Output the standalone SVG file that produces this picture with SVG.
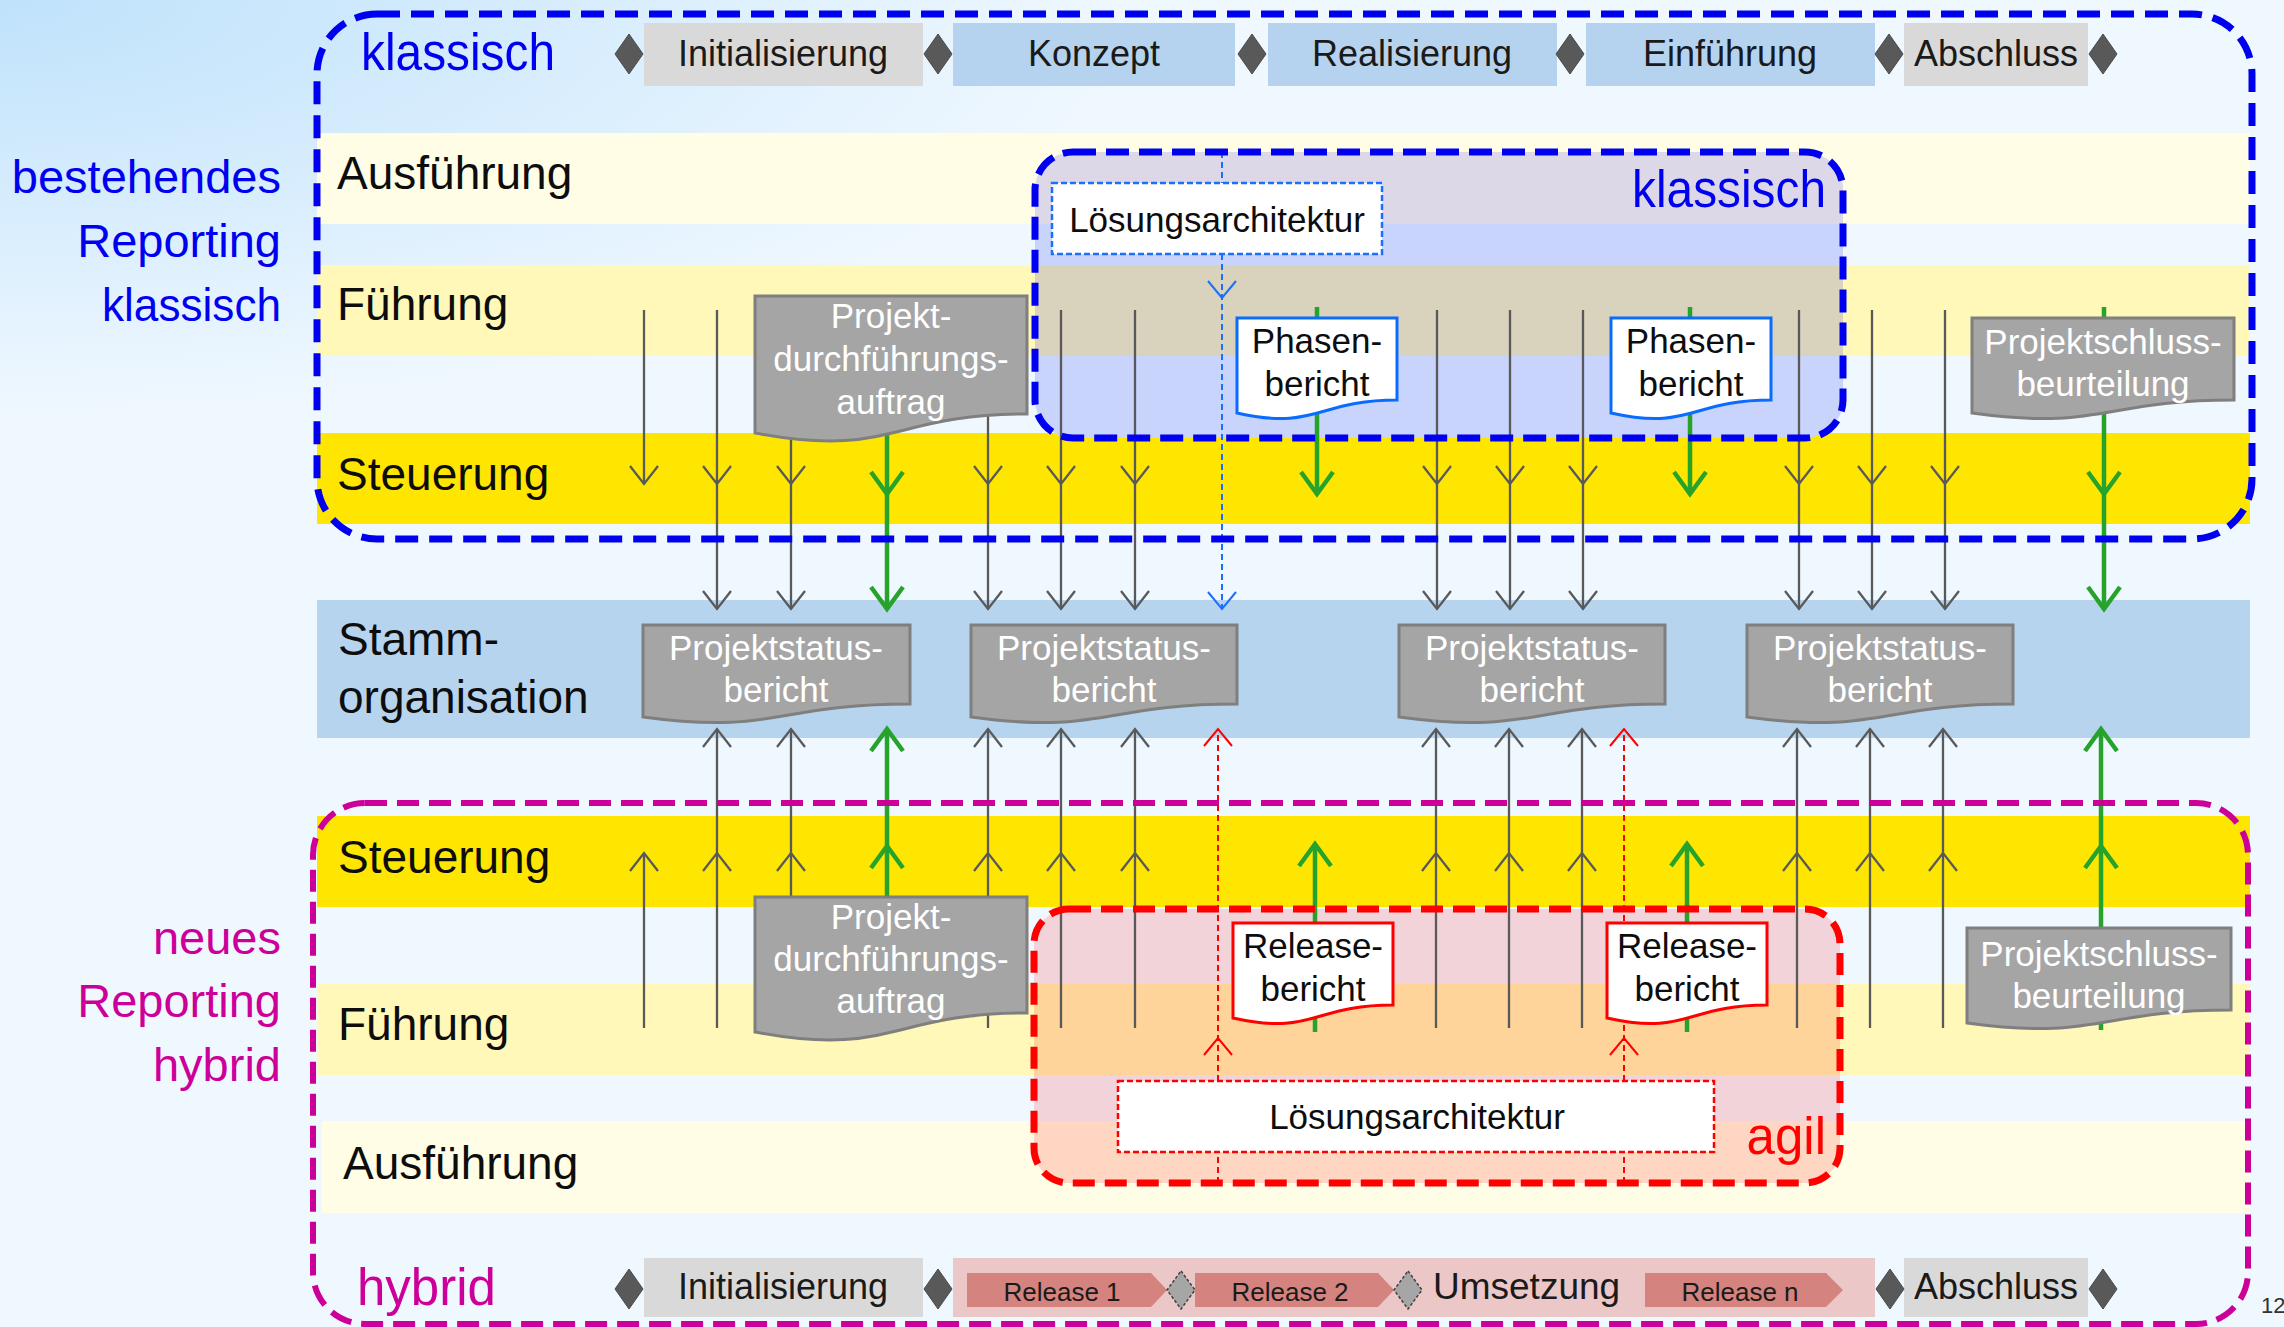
<svg xmlns="http://www.w3.org/2000/svg" xmlns:xlink="http://www.w3.org/1999/xlink" width="2284" height="1327" viewBox="0 0 2284 1327">
<style>
text{font-family:"Liberation Sans",Arial,sans-serif;}
.lane{font-size:46px;fill:#0d0d0d;}
.side{font-size:47px;text-anchor:end;}
.blue{fill:#0000f0;}
.mag{fill:#cc0099;}
.title{font-size:51px;}
.ph{font-size:36px;fill:#1a1a1a;text-anchor:middle;}
.dt{font-size:35px;text-anchor:middle;}
.wt{fill:#ffffff;}
.bt{fill:#0d0d0d;}
.rel{font-size:26px;fill:#1a1a1a;text-anchor:middle;}
.gl{stroke:#595959;stroke-width:2.3;fill:none;}
.gr{stroke:#25a32b;stroke-width:4.5;fill:none;}
.bd{stroke:#1a6fff;stroke-width:2;fill:none;}
.rd{stroke:#ff0000;stroke-width:2;fill:none;}
.dash{stroke-dasharray:6 4;}
.dg{fill:#a5a5a5;stroke:#7f7f7f;stroke-width:3;}
.dwb{fill:#ffffff;stroke:#0a6cff;stroke-width:3;}
.dwr{fill:#ffffff;stroke:#ff0000;stroke-width:3;}
.dia{fill:#595959;stroke:#4a4a4a;stroke-width:1;}
.dia2{fill:#a6a6a6;stroke:#404040;stroke-width:1.5;stroke-dasharray:3 2;}
.gray{fill:#d9d9d9;}
.lblue{fill:#b5d3ef;}
</style>
<defs>
<radialGradient id="bgGrad" gradientUnits="userSpaceOnUse" cx="0" cy="0" r="1" gradientTransform="matrix(1150 0 0 420 0 0)">
<stop offset="0" stop-color="#bfe2fb"/>
<stop offset="1" stop-color="#f0f8ff"/>
</radialGradient>
<clipPath id="cpK"><rect x="1035" y="152" width="808" height="286" rx="38"/></clipPath>
<clipPath id="cpA"><rect x="1034" y="909" width="806" height="274" rx="35"/></clipPath>
<path id="ahd" d="M-14,-18 L0,0 L14,-18"/>
<path id="ahu" d="M-14,18 L0,0 L14,18"/>
<path id="ahdG" d="M-16,-22 L0,0 L16,-22"/>
<path id="ahuG" d="M-16,22 L0,0 L16,22"/>
<path id="ahdS" d="M-14,-17 L0,0 L14,-17"/>
<path id="ahuS" d="M-14,17 L0,0 L14,17"/>
<path id="dmd" d="M0,-20 L14,0 L0,20 L-14,0 Z"/>
<path id="dmd2" d="M0,-19 L14,0 L0,19 L-14,0 Z"/>
</defs>

<rect x="0" y="0" width="2284" height="1327" fill="#f0f8ff"/>
<rect x="0" y="0" width="2284" height="1327" fill="url(#bgGrad)"/>

<g id="bands">
<rect x="317" y="133" width="1933" height="91" fill="#fffde6"/>
<rect x="317" y="265" width="1933" height="91" fill="#fff8b8"/>
<rect x="317" y="433" width="1933" height="91" fill="#ffe600"/>
<rect x="317" y="600" width="1933" height="138" fill="#b7d4ef"/>
<rect x="317" y="816" width="1933" height="91" fill="#ffe600"/>
<rect x="317" y="984" width="1933" height="91" fill="#fff8b8"/>
<rect x="322" y="1121" width="1928" height="92" fill="#fffde6"/>
</g>

<g id="lane-labels">
<text class="lane" x="337" y="189">Ausführung</text>
<text class="lane" x="337" y="320">Führung</text>
<text class="lane" x="337" y="490">Steuerung</text>
<text class="lane" x="338" y="655">Stamm-</text>
<text class="lane" x="338" y="713">organisation</text>
<text class="lane" x="338" y="873">Steuerung</text>
<text class="lane" x="338" y="1040">Führung</text>
<text class="lane" x="343" y="1179">Ausführung</text>
</g>

<g id="side-labels">
<text class="side blue" x="281" y="193">bestehendes</text>
<text class="side blue" x="281" y="257">Reporting</text>
<text class="side blue" x="281" y="321" textLength="179" lengthAdjust="spacingAndGlyphs">klassisch</text>
<text class="side mag" x="281" y="954">neues</text>
<text class="side mag" x="281" y="1017">Reporting</text>
<text class="side mag" x="281" y="1081">hybrid</text>
</g>

<g id="klassisch-inner-fill" clip-path="url(#cpK)">
<rect x="1035" y="152" width="808" height="286" fill="#c9d4fc"/>
<rect x="1035" y="152" width="808" height="72" fill="#dcd8e8"/>
<rect x="1035" y="265" width="808" height="91" fill="#d9d2bd"/>
</g>
<g id="agil-fill" clip-path="url(#cpA)">
<rect x="1034" y="909" width="806" height="274" fill="#f2d3d9"/>
<rect x="1034" y="984" width="806" height="91" fill="#fed49a"/>
<rect x="1034" y="1121" width="806" height="62" fill="#ffd6c2"/>
</g>

<g id="phases-klassisch">
<rect class="gray" x="644" y="23" width="279" height="63"/>
<rect class="lblue" x="953" y="23" width="282" height="63"/>
<rect class="lblue" x="1268" y="23" width="289" height="63"/>
<rect class="lblue" x="1586" y="23" width="289" height="63"/>
<rect class="gray" x="1904" y="23" width="184" height="63"/>
<text class="ph" x="783" y="66">Initialisierung</text>
<text class="ph" x="1094" y="66">Konzept</text>
<text class="ph" x="1412" y="66">Realisierung</text>
<text class="ph" x="1730" y="66">Einführung</text>
<text class="ph" x="1996" y="66">Abschluss</text>
<use href="#dmd" x="629" y="54" class="dia"/>
<use href="#dmd" x="938" y="54" class="dia"/>
<use href="#dmd" x="1252" y="54" class="dia"/>
<use href="#dmd" x="1570" y="54" class="dia"/>
<use href="#dmd" x="1889" y="54" class="dia"/>
<use href="#dmd" x="2103" y="54" class="dia"/>
</g>

<g id="phases-hybrid">
<rect class="gray" x="644" y="1258" width="279" height="59"/>
<rect x="953" y="1258" width="922" height="59" fill="#ebc7c7"/>
<rect class="gray" x="1904" y="1258" width="184" height="59"/>
<path d="M967,1273 H1151 L1167,1290 L1151,1307 H967 Z" fill="#d4837f"/>
<path d="M1195,1273 H1378 L1394,1290 L1378,1307 H1195 Z" fill="#d4837f"/>
<path d="M1645,1273 H1826 L1843,1290 L1826,1307 H1645 Z" fill="#d4837f"/>
<text class="rel" x="1062" y="1301">Release 1</text>
<text class="rel" x="1290" y="1301">Release 2</text>
<text class="rel" x="1740" y="1301">Release n</text>
<text class="ph" x="783" y="1299">Initialisierung</text>
<text class="ph" x="1433" y="1299" style="text-anchor:start;font-size:37px">Umsetzung</text>
<text class="ph" x="1996" y="1299">Abschluss</text>
<use href="#dmd2" x="1181" y="1290" class="dia2"/>
<use href="#dmd2" x="1408" y="1290" class="dia2"/>
<use href="#dmd" x="629" y="1289" class="dia"/>
<use href="#dmd" x="938" y="1289" class="dia"/>
<use href="#dmd" x="1890" y="1289" class="dia"/>
<use href="#dmd" x="2103" y="1289" class="dia"/>
</g>

<g id="connectors">
<line class="gl" x1="644" y1="310" x2="644" y2="484"/>
<line class="gl" x1="717" y1="310" x2="717" y2="609"/>
<line class="gl" x1="791" y1="310" x2="791" y2="609"/>
<line class="gl" x1="988" y1="310" x2="988" y2="609"/>
<line class="gl" x1="1061" y1="310" x2="1061" y2="609"/>
<line class="gl" x1="1135" y1="310" x2="1135" y2="609"/>
<line class="gl" x1="1437" y1="310" x2="1437" y2="609"/>
<line class="gl" x1="1510" y1="310" x2="1510" y2="609"/>
<line class="gl" x1="1583" y1="310" x2="1583" y2="609"/>
<line class="gl" x1="1799" y1="310" x2="1799" y2="609"/>
<line class="gl" x1="1872" y1="310" x2="1872" y2="609"/>
<line class="gl" x1="1945" y1="310" x2="1945" y2="609"/>
<use href="#ahd" class="gl" x="644" y="484"/>
<use href="#ahd" class="gl" x="717" y="484"/><use href="#ahd" class="gl" x="717" y="609"/>
<use href="#ahd" class="gl" x="791" y="484"/><use href="#ahd" class="gl" x="791" y="609"/>
<use href="#ahd" class="gl" x="988" y="484"/><use href="#ahd" class="gl" x="988" y="609"/>
<use href="#ahd" class="gl" x="1061" y="484"/><use href="#ahd" class="gl" x="1061" y="609"/>
<use href="#ahd" class="gl" x="1135" y="484"/><use href="#ahd" class="gl" x="1135" y="609"/>
<use href="#ahd" class="gl" x="1437" y="484"/><use href="#ahd" class="gl" x="1437" y="609"/>
<use href="#ahd" class="gl" x="1510" y="484"/><use href="#ahd" class="gl" x="1510" y="609"/>
<use href="#ahd" class="gl" x="1583" y="484"/><use href="#ahd" class="gl" x="1583" y="609"/>
<use href="#ahd" class="gl" x="1799" y="484"/><use href="#ahd" class="gl" x="1799" y="609"/>
<use href="#ahd" class="gl" x="1872" y="484"/><use href="#ahd" class="gl" x="1872" y="609"/>
<use href="#ahd" class="gl" x="1945" y="484"/><use href="#ahd" class="gl" x="1945" y="609"/>
<line class="gr" x1="887" y1="310" x2="887" y2="609"/>
<line class="gr" x1="1317" y1="307" x2="1317" y2="494"/>
<line class="gr" x1="1690" y1="307" x2="1690" y2="494"/>
<line class="gr" x1="2104" y1="307" x2="2104" y2="609"/>
<use href="#ahdG" class="gr" x="887" y="494"/><use href="#ahdG" class="gr" x="887" y="609"/>
<use href="#ahdG" class="gr" x="1317" y="494"/>
<use href="#ahdG" class="gr" x="1690" y="494"/>
<use href="#ahdG" class="gr" x="2104" y="494"/><use href="#ahdG" class="gr" x="2104" y="609"/>
<line class="bd dash" x1="1222" y1="152" x2="1222" y2="183"/>
<line class="bd dash" x1="1222" y1="254" x2="1222" y2="609"/>
<use href="#ahdS" class="bd" x="1222" y="298"/>
<use href="#ahdS" class="bd" x="1222" y="609"/>
<line class="gl" x1="644" y1="1028" x2="644" y2="853"/>
<line class="gl" x1="717" y1="1028" x2="717" y2="729"/>
<line class="gl" x1="791" y1="1028" x2="791" y2="729"/>
<line class="gl" x1="988" y1="1028" x2="988" y2="729"/>
<line class="gl" x1="1061" y1="1028" x2="1061" y2="729"/>
<line class="gl" x1="1135" y1="1028" x2="1135" y2="729"/>
<line class="gl" x1="1436" y1="1028" x2="1436" y2="729"/>
<line class="gl" x1="1509" y1="1028" x2="1509" y2="729"/>
<line class="gl" x1="1582" y1="1028" x2="1582" y2="729"/>
<line class="gl" x1="1797" y1="1028" x2="1797" y2="729"/>
<line class="gl" x1="1870" y1="1028" x2="1870" y2="729"/>
<line class="gl" x1="1943" y1="1028" x2="1943" y2="729"/>
<use href="#ahu" class="gl" x="644" y="853"/>
<use href="#ahu" class="gl" x="717" y="853"/><use href="#ahu" class="gl" x="717" y="729"/>
<use href="#ahu" class="gl" x="791" y="853"/><use href="#ahu" class="gl" x="791" y="729"/>
<use href="#ahu" class="gl" x="988" y="853"/><use href="#ahu" class="gl" x="988" y="729"/>
<use href="#ahu" class="gl" x="1061" y="853"/><use href="#ahu" class="gl" x="1061" y="729"/>
<use href="#ahu" class="gl" x="1135" y="853"/><use href="#ahu" class="gl" x="1135" y="729"/>
<use href="#ahu" class="gl" x="1436" y="853"/><use href="#ahu" class="gl" x="1436" y="729"/>
<use href="#ahu" class="gl" x="1509" y="853"/><use href="#ahu" class="gl" x="1509" y="729"/>
<use href="#ahu" class="gl" x="1582" y="853"/><use href="#ahu" class="gl" x="1582" y="729"/>
<use href="#ahu" class="gl" x="1797" y="853"/><use href="#ahu" class="gl" x="1797" y="729"/>
<use href="#ahu" class="gl" x="1870" y="853"/><use href="#ahu" class="gl" x="1870" y="729"/>
<use href="#ahu" class="gl" x="1943" y="853"/><use href="#ahu" class="gl" x="1943" y="729"/>
<line class="gr" x1="887" y1="1030" x2="887" y2="729"/>
<line class="gr" x1="1315" y1="1032" x2="1315" y2="844"/>
<line class="gr" x1="1687" y1="1032" x2="1687" y2="844"/>
<line class="gr" x1="2101" y1="1030" x2="2101" y2="729"/>
<use href="#ahuG" class="gr" x="887" y="846"/><use href="#ahuG" class="gr" x="887" y="729"/>
<use href="#ahuG" class="gr" x="1315" y="844"/>
<use href="#ahuG" class="gr" x="1687" y="844"/>
<use href="#ahuG" class="gr" x="2101" y="846"/><use href="#ahuG" class="gr" x="2101" y="729"/>
<line class="rd dash" x1="1218" y1="1183" x2="1218" y2="1152"/>
<line class="rd dash" x1="1218" y1="1081" x2="1218" y2="729"/>
<line class="rd dash" x1="1624" y1="1183" x2="1624" y2="1152"/>
<line class="rd dash" x1="1624" y1="1081" x2="1624" y2="729"/>
<use href="#ahuS" class="rd" x="1218" y="1038"/><use href="#ahuS" class="rd" x="1218" y="729"/>
<use href="#ahuS" class="rd" x="1624" y="1038"/><use href="#ahuS" class="rd" x="1624" y="729"/>
</g>

<g id="frame-klassisch">
<rect x="317" y="14" width="1935" height="525" rx="60" fill="none" stroke="#0000f0" stroke-width="7" stroke-dasharray="23 11"/>
<text class="title blue" x="361" y="70" textLength="194" lengthAdjust="spacingAndGlyphs">klassisch</text>
</g>
<g id="frame-hybrid">
<rect x="313" y="803" width="1935" height="521" rx="52" fill="none" stroke="#cc0099" stroke-width="6" stroke-dasharray="22 10"/>
<text class="title mag" x="357" y="1305">hybrid</text>
</g>
<g id="box-klassisch-inner">
<rect x="1035" y="152" width="808" height="286" rx="38" fill="none" stroke="#0000f0" stroke-width="7" stroke-dasharray="23 10"/>
<text class="title blue" x="1632" y="207" textLength="194" lengthAdjust="spacingAndGlyphs">klassisch</text>
</g>
<g id="box-agil">
<rect x="1034" y="909" width="806" height="274" rx="35" fill="none" stroke="#ff0000" stroke-width="7" stroke-dasharray="22 10"/>
<text class="title" x="1826" y="1154" text-anchor="end" fill="#ff0000">agil</text>
</g>

<g id="loesung-klassisch">
<rect x="1052" y="183" width="330" height="71" fill="#ffffff" stroke="#1a6fff" stroke-width="2.5" stroke-dasharray="6 3"/>
<text class="dt bt" x="1217" y="232">Lösungsarchitektur</text>
</g>
<g id="loesung-agil">
<rect x="1118" y="1081" width="596" height="71" fill="#ffffff" stroke="#ff0000" stroke-width="2.5" stroke-dasharray="6 3"/>
<text class="dt bt" x="1417" y="1129">Lösungsarchitektur</text>
</g>

<g id="pda-top">
<path class="dg" d="M755,296 H1027 V414 C891,414 891,459 755,433 Z"/>
<text class="dt wt" x="891" y="328">Projekt-</text>
<text class="dt wt" x="891" y="371">durchführungs-</text>
<text class="dt wt" x="891" y="414">auftrag</text>
</g>
<g id="phasen-1">
<path class="dwb" d="M1237,318 H1397 V400 C1317,400 1317,431 1237,413 Z"/>
<text class="dt bt" x="1317" y="353">Phasen-</text>
<text class="dt bt" x="1317" y="396">bericht</text>
</g>
<g id="phasen-2">
<path class="dwb" d="M1611,318 H1771 V400 C1691,400 1691,431 1611,413 Z"/>
<text class="dt bt" x="1691" y="353">Phasen-</text>
<text class="dt bt" x="1691" y="396">bericht</text>
</g>
<g id="psb-top">
<path class="dg" d="M1972,318 H2234 V400 C2103,400 2103,431 1972,413 Z"/>
<text class="dt wt" x="2103" y="354">Projektschluss-</text>
<text class="dt wt" x="2103" y="396">beurteilung</text>
</g>

<g id="status-1">
<path class="dg" d="M643,625 H910 V704 C776,704 776,735 643,717 Z"/>
<text class="dt wt" x="776" y="660">Projektstatus-</text>
<text class="dt wt" x="776" y="702">bericht</text>
</g>
<g id="status-2">
<path class="dg" d="M971,625 H1237 V704 C1104,704 1104,735 971,717 Z"/>
<text class="dt wt" x="1104" y="660">Projektstatus-</text>
<text class="dt wt" x="1104" y="702">bericht</text>
</g>
<g id="status-3">
<path class="dg" d="M1399,625 H1665 V704 C1532,704 1532,735 1399,717 Z"/>
<text class="dt wt" x="1532" y="660">Projektstatus-</text>
<text class="dt wt" x="1532" y="702">bericht</text>
</g>
<g id="status-4">
<path class="dg" d="M1747,625 H2013 V704 C1880,704 1880,735 1747,717 Z"/>
<text class="dt wt" x="1880" y="660">Projektstatus-</text>
<text class="dt wt" x="1880" y="702">bericht</text>
</g>

<g id="pda-bottom">
<path class="dg" d="M755,897 H1027 V1013 C891,1013 891,1058 755,1032 Z"/>
<text class="dt wt" x="891" y="929">Projekt-</text>
<text class="dt wt" x="891" y="971">durchführungs-</text>
<text class="dt wt" x="891" y="1013">auftrag</text>
</g>
<g id="release-1">
<path class="dwr" d="M1233,923 H1393 V1005 C1313,1005 1313,1036 1233,1018 Z"/>
<text class="dt bt" x="1313" y="958">Release-</text>
<text class="dt bt" x="1313" y="1001">bericht</text>
</g>
<g id="release-2">
<path class="dwr" d="M1607,923 H1767 V1005 C1687,1005 1687,1036 1607,1018 Z"/>
<text class="dt bt" x="1687" y="958">Release-</text>
<text class="dt bt" x="1687" y="1001">bericht</text>
</g>
<g id="psb-bottom">
<path class="dg" d="M1967,928 H2231 V1010 C2099,1010 2099,1041 1967,1023 Z"/>
<text class="dt wt" x="2099" y="966">Projektschluss-</text>
<text class="dt wt" x="2099" y="1008">beurteilung</text>
</g>

<text x="2261" y="1313" font-size="22" fill="#333333">12</text>
</svg>
